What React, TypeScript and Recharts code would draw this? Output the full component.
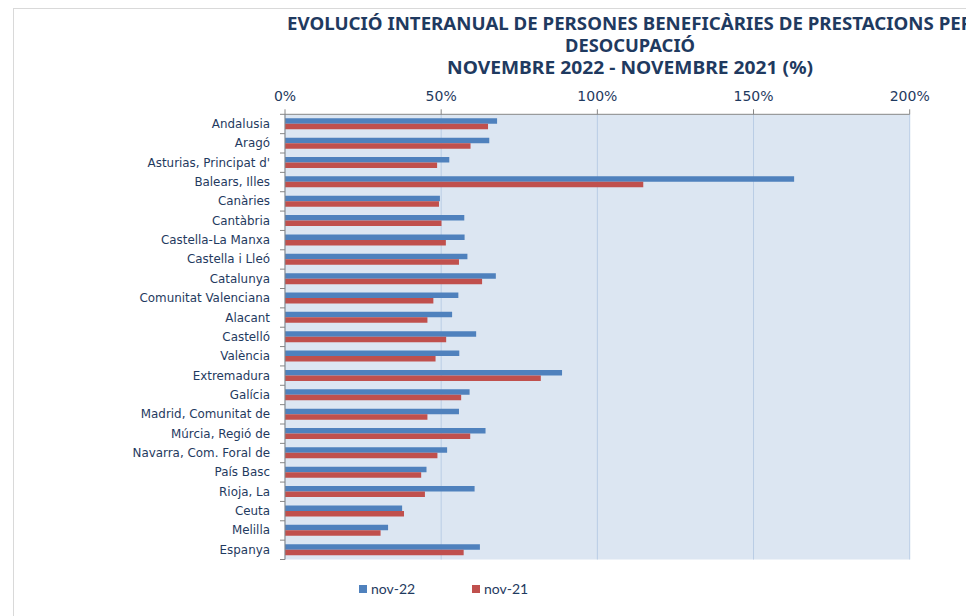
import React from "react";
import { Bar, BarChart, CartesianGrid, XAxis, YAxis } from "recharts";

const categories = [
  "Andalusia",
  "Aragó",
  "Asturias, Principat d'",
  "Balears, Illes",
  "Canàries",
  "Cantàbria",
  "Castella-La Manxa",
  "Castella i Lleó",
  "Catalunya",
  "Comunitat Valenciana",
  "Alacant",
  "Castelló",
  "València",
  "Extremadura",
  "Galícia",
  "Madrid, Comunitat de",
  "Múrcia, Regió de",
  "Navarra, Com. Foral de",
  "País Basc",
  "Rioja, La",
  "Ceuta",
  "Melilla",
  "Espanya",
];

const nov22 = [
  67.9, 65.4, 52.6, 163.0, 49.6, 57.4, 57.5, 58.4, 67.5, 55.5, 53.5, 61.2,
  55.8, 88.7, 59.1, 55.7, 64.2, 51.9, 45.3, 60.7, 37.5, 33.0, 62.4,
];

const nov21 = [
  65.0, 59.4, 48.7, 114.7, 49.3, 50.1, 51.5, 55.7, 63.1, 47.5, 45.6, 51.6,
  48.2, 81.9, 56.4, 45.6, 59.3, 48.8, 43.6, 44.8, 38.1, 30.6, 57.2,
];

const xTicks = [0, 50, 100, 150, 200];

const titleLines = [
  "EVOLUCIÓ INTERANUAL DE PERSONES BENEFICÀRIES DE PRESTACIONS PER",
  "DESOCUPACIÓ",
  "NOVEMBRE 2022 - NOVEMBRE 2021 (%)",
];

const data = categories.map((name, i) => ({
  name,
  nov22: nov22[i],
  nov21: nov21[i],
}));

const BLUE = "#4f81bd";
const RED = "#c0504d";
const TEXT = "#1f3a60";
const AXIS = "#868686";

const PLOT_TOP = 114.3;
const PLOT_BOTTOM = 559.5;
const BAND = (PLOT_BOTTOM - PLOT_TOP) / categories.length;

const CatTick = (props: any) => {
  const { x, y, payload, index } = props;
  return (
    <g>
      <text
        x={x - 15}
        y={y}
        dy={4}
        textAnchor="end"
        fill={TEXT}
        fontSize={11.9}
        fontFamily="DejaVu Sans"
      >
        {payload.value}
      </text>
      {index === 0 && (
        <line x1={x - 5} x2={x} y1={y - BAND / 2} y2={y - BAND / 2} stroke={AXIS} />
      )}
      <line x1={x - 5} x2={x} y1={y + BAND / 2} y2={y + BAND / 2} stroke={AXIS} />
    </g>
  );
};

const title = [
  { y: 30, len: 686 },
  { y: 52, len: 130 },
  { y: 74, len: 366 },
];

export default function App() {
  return (
    <div
      style={{
        position: "absolute",
        left: 0,
        top: 0,
        width: 966,
        height: 616,
        overflow: "hidden",
        background: "#fff",
      }}
    >
      <div
        style={{
          position: "absolute",
          left: 13,
          top: 8,
          width: 953,
          height: 608,
          borderTop: "1.5px solid #d9d9d9",
          borderLeft: "1.5px solid #d9d9d9",
        }}
      />
      <svg
        width={966}
        height={90}
        style={{ position: "absolute", left: 0, top: 0 }}
      >
        {titleLines.map((t, i) => (
          <text
            key={i}
            x={630}
            y={title[i].y}
            textAnchor="middle"
            fill={TEXT}
            fontWeight="bold"
            fontSize={17.5}
            fontFamily="Noto Sans"
            textLength={title[i].len}
            lengthAdjust="spacingAndGlyphs"
          >
            {t}
          </text>
        ))}
      </svg>
      <div style={{ position: "absolute", left: 0, top: 0 }}>
        <BarChart
          width={966}
          height={616}
          data={data}
          layout="vertical"
          margin={{ top: 84.3, right: 56.3, bottom: 56.5, left: 0 }}
          barGap={0}
        >
          <CartesianGrid
            horizontal={false}
            vertical={true}
            stroke="#b9cde5"
            fill="#dce6f2"
            fillOpacity={1}
          />
          <XAxis
            type="number"
            orientation="top"
            domain={[0, 200]}
            ticks={xTicks}
            tickFormatter={(v: number) => `${v}%`}
            axisLine={{ stroke: AXIS }}
            tickLine={{ stroke: AXIS }}
            tickSize={5}
            tickMargin={8}
            height={30}
            tick={{ fill: TEXT, fontSize: 14, fontFamily: "DejaVu Sans" }}
          />
          <YAxis
            type="category"
            dataKey="name"
            width={285}
            axisLine={{ stroke: AXIS }}
            tickLine={false}
            tickSize={0}
            tickMargin={0}
            interval={0}
            tick={(p: any) => <CatTick {...p} />}
          />
          <Bar dataKey="nov22" fill={BLUE} barSize={5.5} isAnimationActive={false} />
          <Bar dataKey="nov21" fill={RED} barSize={5.5} isAnimationActive={false} />
        </BarChart>
      </div>
      <div
        style={{
          position: "absolute",
          top: 580,
          left: 359,
          display: "flex",
          alignItems: "center",
          fontFamily: "Lato",
          fontSize: 14,
          color: TEXT,
        }}
      >
        <span style={{ width: 8, height: 8, background: BLUE, marginRight: 4 }} />
        <span style={{ width: 101 }}>nov-22</span>
        <span style={{ width: 8, height: 8, background: RED, marginRight: 4 }} />
        <span>nov-21</span>
      </div>
    </div>
  );
}
